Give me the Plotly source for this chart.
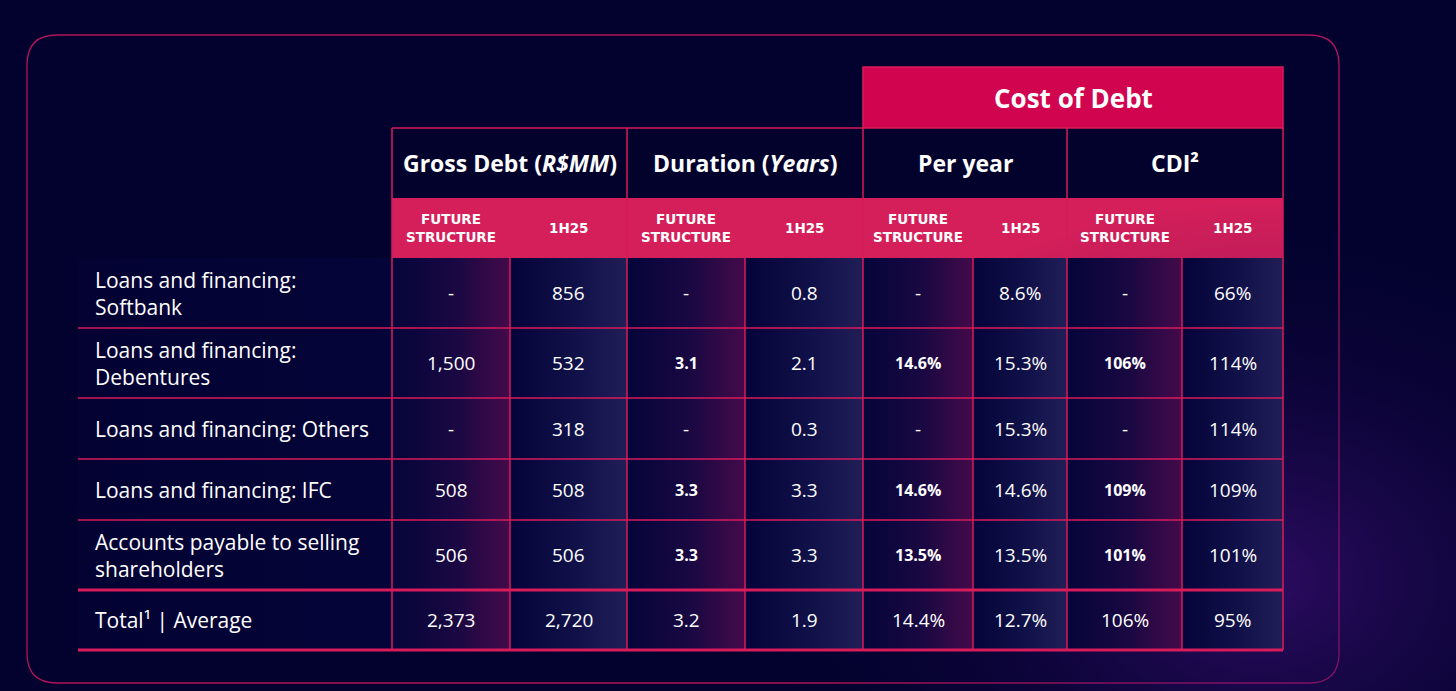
import plotly.graph_objects as go

# table content
row_labels = ["Loans and financing:<br>Softbank",
              "Loans and financing:<br>Debentures",
              "Loans and financing: Others",
              "Loans and financing: IFC",
              "Accounts payable to selling<br>shareholders",
              "Total¹ | Average"]
gross_future = ["-", "1,500", "-", "508", "506", "2,373"]
gross_1h25 = ["856", "532", "318", "508", "506", "2,720"]
duration_future = ["-", "3.1", "-", "3.3", "3.3", "3.2"]
duration_1h25 = ["0.8", "2.1", "0.3", "3.3", "3.3", "1.9"]
peryear_future = ["-", "14.6%", "-", "14.6%", "13.5%", "14.4%"]
peryear_1h25 = ["8.6%", "15.3%", "15.3%", "14.6%", "13.5%", "12.7%"]
cdi_future = ["-", "106%", "-", "109%", "101%", "106%"]
cdi_1h25 = ["66%", "114%", "114%", "109%", "101%", "95%"]
group_titles = ["Gross Debt (<i>R$MM</i>)", "Duration (<i>Years</i>)", "Per year", "CDI²"]
sub_titles = ["FUTURE<br>STRUCTURE", "1H25"]
top_title = "Cost of Debt"

columns = [gross_future, gross_1h25, duration_future, duration_1h25,
           peryear_future, peryear_1h25, cdi_future, cdi_1h25]

# geometry in pixels (axes map 1:1 to the page)
W, H = 1456, 691
col_edges = [392, 510, 627, 745, 863, 973, 1067, 1182, 1283]
row_edges = [258, 328, 398, 459, 520, 590, 650]
label_x0 = 78
top_y0, top_y1 = 67, 128
head_y0, head_y1 = 128, 198
sub_y0, sub_y1 = 198, 258

BG = "#03022e"
PINK = "#d81b5a"
FONT = "Open Sans"
WIDE = "DejaVu Sans"

fig = go.Figure()

# soft purple glow lower right
fig.add_trace(go.Scatter(x=[760, 1760, 1760, 760, 760], y=[200, 200, 960, 960, 200],
                         fill="toself", mode="none", hoverinfo="skip",
                         fillgradient=dict(type="radial",
                                           colorscale=[[0, "rgba(80,20,140,0.55)"],
                                                       [1, "rgba(3,2,46,0)"]])))

# label column background
fig.add_trace(go.Scatter(x=[label_x0, 392, 392, label_x0, label_x0],
                         y=[258, 258, 650, 650, 258],
                         fill="toself", mode="none", hoverinfo="skip",
                         fillgradient=dict(type="horizontal",
                                           colorscale=[[0, "#030233"], [1, "#050438"]])))

# gradient value cells
for c in range(len(columns)):
    x0, x1 = col_edges[c], col_edges[c + 1]
    if c % 2 == 0:
        scale = [[0, "#05053a"], [0.55, "#1a0842"], [1, "#440a4a"]]
    else:
        scale = [[0, "#04043a"], [0.6, "#12124a"], [1, "#211e56"]]
    for r in range(len(row_labels)):
        y0, y1 = row_edges[r], row_edges[r + 1]
        fig.add_trace(go.Scatter(x=[x0, x1, x1, x0, x0], y=[y0, y0, y1, y1, y0],
                                 fill="toself", mode="none", hoverinfo="skip",
                                 fillgradient=dict(type="horizontal", colorscale=scale)))

shapes = []
# outer rounded panel
px0, py0, px1, py1, rr = 27, 35, 1339, 683, 30
panel = (f"M {px0 + rr},{py0} L {px1 - rr},{py0} Q {px1},{py0} {px1},{py0 + rr} "
         f"L {px1},{py1 - rr} Q {px1},{py1} {px1 - rr},{py1} L {px0 + rr},{py1} "
         f"Q {px0},{py1} {px0},{py1 - rr} L {px0},{py0 + rr} Q {px0},{py0} {px0 + rr},{py0} Z")
shapes.append(dict(type="path", path=panel, line=dict(color="#b0145a", width=1.3), layer="below"))

# header blocks
shapes.append(dict(type="rect", x0=col_edges[4], x1=col_edges[8], y0=top_y0, y1=top_y1,
                   fillcolor="#d0044f", line=dict(color=PINK, width=1.5), layer="below"))
shapes.append(dict(type="rect", x0=col_edges[0], x1=col_edges[8], y0=head_y0, y1=head_y1,
                   fillcolor="#03022c", line=dict(width=0), layer="below"))
shapes.append(dict(type="rect", x0=col_edges[0], x1=col_edges[8], y0=sub_y0, y1=sub_y1,
                   fillcolor="#d41f5b", line=dict(width=0), layer="below"))

# grid lines
line_style = dict(color=PINK, width=1.5)
shapes.append(dict(type="line", x0=col_edges[0], x1=col_edges[8], y0=head_y0, y1=head_y0,
                   line=line_style, layer="above"))
for i, x in enumerate(col_edges):
    ytop = head_y0 if i % 2 == 0 else sub_y1
    shapes.append(dict(type="line", x0=x, x1=x, y0=ytop, y1=row_edges[-1],
                       line=line_style, layer="above"))
for i, y in enumerate(row_edges[1:], start=1):
    thick = i >= len(row_edges) - 2
    shapes.append(dict(type="line", x0=label_x0, x1=col_edges[8], y0=y, y1=y,
                       line=dict(color=PINK, width=3 if thick else 1.5), layer="above"))

annotations = []
annotations.append(dict(x=(col_edges[4] + col_edges[8]) / 2, y=(top_y0 + top_y1) / 2,
                        text=f"<b>{top_title}</b>", font=dict(size=26, color="white", family=FONT)))
for g, title in enumerate(group_titles):
    annotations.append(dict(x=(col_edges[2 * g] + col_edges[2 * g + 2]) / 2,
                            y=(head_y0 + head_y1) / 2, text=f"<b>{title}</b>",
                            font=dict(size=23, color="white", family=FONT)))
    for s in range(2):
        annotations.append(dict(x=(col_edges[2 * g + s] + col_edges[2 * g + s + 1]) / 2,
                                y=(sub_y0 + sub_y1) / 2, text=f"<b>{sub_titles[s]}</b>",
                                font=dict(size=13.5, color="white", family=WIDE)))

for r, label in enumerate(row_labels):
    yc = (row_edges[r] + row_edges[r + 1]) / 2
    annotations.append(dict(x=93, y=yc, text=label, xanchor="left", align="left",
                            font=dict(size=21, color="white", family=FONT)))
    for c, col in enumerate(columns):
        val = col[r]
        small_bold = c >= 2 and c % 2 == 0 and val != "-" and r < len(row_labels) - 1
        annotations.append(dict(x=(col_edges[c] + col_edges[c + 1]) / 2, y=yc,
                                text=f"<b>{val}</b>" if small_bold else val,
                                font=dict(size=16 if small_bold else 19, color="white", family=FONT)))

for a in annotations:
    a.update(xref="x", yref="y", showarrow=False)

fig.update_layout(width=W, height=H, autosize=False, margin=dict(l=0, r=0, t=0, b=0),
                  paper_bgcolor=BG, plot_bgcolor=BG, showlegend=False,
                  shapes=shapes, annotations=annotations)
fig.update_xaxes(range=[0, W], visible=False, fixedrange=True)
fig.update_yaxes(range=[H, 0], visible=False, fixedrange=True)

fig.write_html("out.html", config={"displayModeBar": False},
               post_script="document.body.style.margin='0';document.body.style.background='#03022e';")
